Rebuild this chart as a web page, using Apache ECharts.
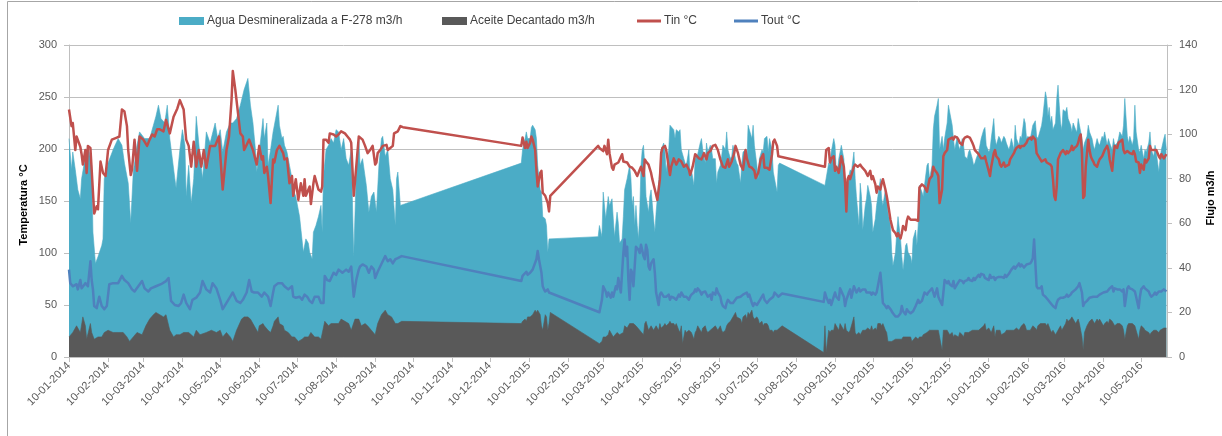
<!DOCTYPE html>
<html>
<head>
<meta charset="utf-8">
<script src="https://cdn.jsdelivr.net/npm/echarts@6/dist/echarts.min.js"></script>
<style>
  html, body { margin: 0; padding: 0; background: #ffffff; }
  #chart { width: 1222px; height: 436px; }
</style>
</head>
<body>
<div id="chart"></div>
<script>
// Daily readings, keyed by day number counted from 10-01-2014.
const firstDay = [2014, 0, 10];
const lastDay = 871.5;

// Month marks on the horizontal axis
const tickLabels = [
  '10-01-2014','10-02-2014','10-03-2014','10-04-2014','10-05-2014','10-06-2014',
  '10-07-2014','10-08-2014','10-09-2014','10-10-2014','10-11-2014','10-12-2014',
  '10-01-2015','10-02-2015','10-03-2015','10-04-2015','10-05-2015','10-06-2015',
  '10-07-2015','10-08-2015','10-09-2015','10-10-2015','10-11-2015','10-12-2015',
  '10-01-2016','10-02-2016','10-03-2016','10-04-2016','10-05-2016'
];

const seriesNames = [
  'Agua Desmineralizada a F-278 m3/h',
  'Aceite Decantado m3/h',
  'Tin °C',
  'Tout °C'
];

// Agua Desmineralizada a F-278 (m3/h) [day, value]
const agua = [
  [0,98],[2,84],[3,92],[5,84],[7,75],[9,71],[10,80],[13,90],[15,95],[18,86],[19,56],[21,42],[23,45],[26,50],[27,53],[28,80],[31,87],[35,93],[39,98],[42,95],[44,87],[47,78],[49,60],[51,83],[54,95],[56,101],[60,98],[64,98],[67,104],[69,108],[71,113],[73,107],[76,105],[78,113],[80,98],[84,80],[85,76],[88,93],[90,102],[92,95],[93,72],[95,86],[97,69],[99,80],[101,108],[104,90],[106,80],[109,101],[112,96],[116,105],[118,98],[120,102],[122,92],[125,101],[128,105],[130,105],[133,107],[136,113],[139,120],[142,125],[144,113],
  [146,105],[148,93],[149,83],[151,92],[154,107],[155,98],[157,105],[158,86],[160,93],[162,101],[164,107],[166,113],[167,104],[169,98],[170,99],[171,95],[173,92],[175,86],[177,80],[178,75],[180,72],[183,63],[186,47],[188,53],[190,51],[191,47],[193,44],[194,56],[196,59],[198,63],[200,68],[201,56],[202,81],[204,93],[206,95],[208,98],[210,96],[212,102],[214,101],[216,93],[218,98],[220,89],[222,86],[224,93],[226,45],[228,83],[230,99],[231,86],[233,89],[236,77],[238,65],[240,72],[242,74],[244,65],[246,86],[248,98],[249,99],[251,90],[253,93],[255,80],[257,75],[259,59],[260,80],[261,83],[263,68],
  [359,87],[360,93],[362,98],[363,101],[364,98],[366,98],[367,103],[368,104],[370,102],[371,98],[372,86],[374,75],[375,74],[376,63],[378,62],[379,59],[380,47],[381,53],[382,53],
  [420,54],[421,59],[423,54],[424,74],[426,62],[428,72],[429,68],[431,71],[432,62],[433,54],[435,65],[436,60],[437,51],[439,53],[440,63],[441,75],[443,80],[445,86],[446,80],[447,68],[448,72],[449,59],[450,68],
  [451,59],[452,53],[453,65],[454,86],[455,93],[456,95],[457,86],[458,72],[460,65],[461,72],[462,75],[464,62],[465,56],[466,65],[468,78],[469,84],[470,93],[472,96],[473,92],[474,83],[476,93],[477,104],[478,104],[480,102],[481,98],[482,102],[484,101],[485,102],[486,93],[488,89],[489,87],[490,86],[492,93],[493,80],[494,84],[496,77],[497,89],[498,90],[499,91],[501,96],[502,98],[503,93],[505,87],[506,96],[507,92],[509,95],[510,93],[511,89],[513,89],[514,78],[515,83],[517,86],[518,90],[519,95],[521,93],[522,101],[523,93],[525,89],[526,90],[527,95],[529,89],[530,87],[531,86],[533,78],[534,87],[535,92],[537,93],[538,87],[539,104],[540,104],[542,98],[543,104],[544,95],[546,86],[547,80],[548,89],[550,93],[551,92],[552,98],[554,99],[555,92],[556,98],[558,93],[559,83],[560,80],[562,74],[563,86],[564,87],
  [600,77],[603,87],[604,86],[605,92],[607,98],[608,95],[609,83],[610,84],[611,89],[612,92],[613,95],[615,89],[616,78],[617,72],[619,81],[620,84],[621,83],[623,92],[624,80],[625,72],[627,59],[628,78],[629,72],[630,57],[632,68],[633,71],[634,77],[636,72],[637,68],[638,56],[640,62],[641,68],[642,72],[644,80],[645,71],[646,68],[648,75],[649,72],[650,65],[652,59],[653,47],[654,41],[656,47],[657,56],[658,63],[660,53],[661,45],[662,39],[664,50],[665,51],[666,47],[668,45],[669,42],[670,53],[672,57],[673,50],[674,59],[675,77],[677,74],[678,72],[679,77],[681,86],[682,87],[683,80],[685,86],[686,102],[687,108],[689,113],[690,116],[691,93],[693,99],[694,93],[695,98],[697,105],[698,113],[699,113],[701,104],[702,98],[703,93],[705,99],[706,95],[707,93],[709,98],[710,95],[711,90],[713,89],[714,92],[715,93],[717,89],[718,86],[719,87],[720,89],[722,92],[723,95],[724,98],[726,102],[727,103],[728,95],[730,92],[731,93],[732,98],[734,107],[735,98],[736,95],[738,99],[739,98],[740,96],[742,99],[743,98],[744,96],
  [746,93],[747,95],[748,98],[750,93],[751,104],[752,98],[754,95],[755,99],[756,98],[758,107],[759,105],[760,98],[761,99],[763,98],[764,101],[765,104],[767,106],[768,99],[769,98],[771,102],[772,104],[773,108],[775,119],[776,116],[777,108],[778,112],[779,105],[780,108],[781,102],[783,105],[784,116],[785,122],[786,113],[787,105],[788,102],[789,111],[791,110],[792,112],[793,107],[795,104],[796,101],[797,105],[799,102],[800,101],[801,107],[802,104],[804,98],[805,93],[806,96],[808,99],[809,104],[810,101],[812,98],[813,95],[814,93],[816,98],[817,96],[818,95],[820,99],[821,98],[822,101],[824,95],[825,98],[826,96],[828,93],[829,98],[830,95],[832,96],[833,98],[834,101],[836,99],[837,104],[838,116],[840,99],[841,96],[842,99],[844,95],[845,98],[846,113],[847,101],[849,93],[850,92],[851,95],[853,89],[854,93],[855,92],[857,96],[858,101],[859,93],[861,90],[862,95],[863,92],[865,83],[866,89],[867,93],[869,98],[870,100],[871,93]
];

// Aceite Decantado (m3/h) [day, value]
const aceite = [
  [0,9],[3,11],[6,14],[9,11],[11,18],[13,14],[14,8],[17,15],[18,11],[20,8],[23,9],[26,9],[28,11],[31,12],[35,11],[39,11],[43,11],[46,9],[48,7],[51,9],[54,11],[58,10],[61,14],[64,17],[67,19],[69,20],[72,19],[75,18],[77,19],[80,12],[83,9],[85,10],[88,10],[91,11],[95,11],[99,9],[101,12],[104,10],[109,11],[113,12],[117,11],[120,12],[122,9],[125,11],[128,9],[130,7],[133,12],[137,17],[139,18],[142,18],[144,17],
  [146,15],[149,12],[150,11],[151,14],[154,15],[155,14],[158,12],[160,11],[162,14],[163,16],[166,18],[167,15],[170,14],[171,12],[174,11],[177,9],[179,9],[182,7],[185,8],[187,9],[190,9],[192,11],[195,9],[198,9],[200,8],[203,16],[206,14],[208,15],[211,15],[214,15],[216,17],[219,16],[222,15],[224,12],[227,17],[230,17],[232,14],[235,15],[237,14],[240,12],[243,10],[245,15],[248,19],[251,21],[253,19],[256,18],[259,15],[261,15],[264,16],
  [359,15],[360,16],[362,17],[363,16],[364,18],[366,18],[368,19],[370,21],[371,20],[372,21],[374,19],[375,14],[376,12],[378,19],[379,18],[380,12],[381,15],[382,20],
  [421,6],[423,7],[424,9],[426,9],[428,10],[429,12],[431,10],[432,9],[435,11],[437,10],[440,11],[441,14],[443,13],[445,15],[448,15],[450,14],[453,12],
  [454,12],[456,10],[457,15],[458,16],[460,12],[461,12],[462,14],[464,12],[465,13],[466,14],[468,12],[469,15],[470,13],[472,14],[473,15],[474,14],[476,15],[477,16],[478,15],[480,15],[481,14],[482,15],[484,12],[485,11],[486,14],[487,6],[489,12],[490,11],[492,12],[493,12],[494,11],[496,8],[497,11],[498,12],[499,14],[501,12],[502,11],[503,13],[505,14],[506,12],[507,11],[509,12],[511,13],[513,14],[514,14],[515,12],[517,14],[518,12],[519,11],[521,12],[522,14],[523,15],[525,16],[526,17],[527,18],[529,20],[530,18],[531,18],[533,17],[534,15],[535,18],[537,19],[538,17],[539,20],[540,19],[542,21],[543,18],[544,17],[546,18],[547,17],[548,15],[550,16],[551,14],[552,15],[554,15],[555,14],[556,12],[558,12],[559,11],[560,12],[562,12],[563,12],[566,14],
  [599,2],[600,14],[601,2],[603,12],[604,11],[605,12],[607,12],[608,15],[609,14],[611,12],[612,15],[613,14],[615,12],[616,15],[617,12],[619,11],[620,12],[621,14],[623,18],[624,11],[625,10],[627,11],[628,10],[629,11],[630,12],[632,12],[633,12],[634,13],[636,12],[637,14],[638,12],[640,13],[641,12],[642,15],[644,15],[645,14],[646,15],[648,12],[649,11],[650,7],[653,7],[656,8],[658,8],[661,8],[662,9],[665,9],[668,9],[669,7],[672,9],[674,8],[675,9],[677,9],[678,10],[681,11],[683,12],[686,12],[687,12],[690,12],[691,12],[693,3],[694,12],[695,12],[697,12],[698,11],[699,10],[701,11],[702,9],[703,10],[706,9],[707,11],[709,10],[710,9],[711,11],[714,11],[717,12],[719,12],[722,12],[723,12],[724,13],[726,14],[727,15],[728,12],[730,13],[731,12],[732,11],[734,14],[735,9],[736,12],[739,12],[740,10],[743,11],[744,12],[747,12],[750,12],
  [752,13],[754,12],[755,13],[756,14],[758,15],[759,14],[760,12],[761,12],[763,12],[764,13],[765,14],[767,13],[768,12],[769,14],[771,15],[772,15],[773,15],[775,15],[776,14],[777,15],[779,12],[780,11],[781,12],[783,10],[784,11],[785,12],[787,14],[788,12],[789,13],[791,15],[792,17],[793,16],[795,17],[796,18],[797,17],[799,15],[800,16],[801,17],[802,15],[804,9],[805,3],[806,11],[808,14],[809,15],[810,16],[812,17],[813,16],[814,15],[816,17],[817,16],[818,17],[820,15],[821,14],[822,15],[824,16],[825,15],[826,17],[828,16],[829,15],[830,14],[832,15],[833,15],[834,15],[836,14],[837,12],[838,8],[840,14],[841,15],[842,15],[844,15],[845,15],[846,14],[847,12],[849,8],[850,12],[851,14],[853,13],[854,12],[855,12],[857,11],[858,10],[859,11],[861,12],[862,12],[863,12],[865,11],[866,12],[867,12],[869,13],[870,13],[871,13]
];

// Tin (°C) [day, value]
const tin = [
  [0,238],[2,222],[3,225],[5,199],[6,212],[9,202],[10,195],[11,185],[13,199],[14,177],[15,203],[17,201],[20,138],[22,145],[23,142],[25,188],[27,177],[29,174],[31,199],[34,209],[38,211],[40,212],[42,238],[44,236],[46,222],[47,199],[49,175],[50,180],[52,209],[54,179],[56,212],[59,209],[62,203],[64,209],[66,214],[68,212],[70,219],[72,219],[75,217],[77,228],[80,215],[83,231],[86,239],[88,247],[91,238],[93,209],[95,203],[97,183],[99,207],[101,183],[103,199],[105,183],[107,199],[109,182],[112,203],[116,203],[119,212],[122,161],[125,199],[127,212],[129,247],[130,275],[132,257],[136,215],[138,212],[139,199],[143,209],[146,199],[149,185],[151,203],
  [153,190],[154,193],[155,177],[157,183],[158,174],[160,148],[162,190],[163,187],[165,199],[167,203],[170,196],[171,190],[173,191],[175,167],[177,174],[178,155],[180,171],[182,151],[183,150],[184,167],[186,155],[187,171],[188,155],[191,164],[192,147],[194,167],[195,174],[198,161],[200,159],[201,164],[202,209],[204,209],[206,206],[207,215],[210,214],[212,212],[214,214],[216,217],[219,215],[221,212],[223,209],[224,206],[226,155],[228,183],[230,212],[231,211],[233,209],[235,203],[237,196],[239,199],[241,203],[243,185],[244,187],[245,196],[247,199],[249,203],[252,204],[253,199],[255,201],[257,203],[258,215],[261,217],[263,222],[265,221],
  [359,203],[360,211],[362,201],[363,207],[364,201],[366,206],[367,212],[368,209],[370,199],[371,180],[372,164],[374,177],[375,179],[376,158],[378,155],[380,148],[381,140],[382,155],
  [420,203],[421,201],[424,198],[425,203],[427,195],[428,209],[429,196],[431,182],[432,180],[433,185],[436,187],[439,195],[440,188],[443,187],[445,183],
  [447,182],[449,179],[451,174],[453,180],[454,183],[456,174],[457,190],[458,188],[460,185],[462,177],[463,171],[465,161],[467,151],[469,171],[470,196],[471,201],[473,203],[474,199],[476,183],[477,175],[478,183],[480,191],[482,185],[484,190],[485,191],[486,188],[488,183],[490,185],[492,180],[493,175],[495,183],[497,195],[498,196],[500,191],[502,190],[504,196],[506,190],[507,196],[509,198],[511,203],[513,204],[515,199],[517,190],[519,183],[521,182],[523,190],[524,183],[526,188],[528,196],[529,203],[531,196],[533,185],[535,180],[537,199],[538,191],[540,183],[542,182],[544,179],[545,172],[547,177],[549,190],[551,195],[552,182],[554,182],[556,180],[558,195],[559,207],[560,209],[562,203],[563,193],[564,193],
  [600,183],[601,199],[603,201],[604,187],[605,191],[607,193],[608,179],[609,183],[611,177],[612,185],[613,193],[615,183],[616,167],[617,140],[618,171],[619,174],[620,171],[621,175],[623,183],[624,185],[625,185],[626,183],[628,185],[629,183],[630,182],[632,179],[633,180],[634,174],[636,179],[637,171],[638,174],[640,166],[641,158],[642,164],[644,161],[645,167],[646,171],[648,161],[649,155],[650,148],[652,132],[653,127],[654,122],[656,119],[657,116],[658,119],[660,114],[661,119],[662,126],[664,122],[665,131],[666,135],[668,132],[669,131],[670,132],[672,132],[673,131],[674,131],[675,163],[677,166],[678,167],[679,164],[681,159],[682,158],[683,171],[685,174],[686,183],[687,180],[689,177],[690,174],[691,148],[693,161],[694,193],[695,196],[697,199],[698,209],[699,209],[701,211],[702,209],[703,212],[705,211],[706,209],[707,206],[709,204],[710,209],[711,211],[713,212],[714,213],[715,211],[717,206],[718,203],[719,199],[720,198],[722,195],[723,193],[724,191],[726,191],[727,193],[728,188],[730,179],[731,174],[732,183],[734,196],[735,199],[736,193],[738,190],[739,185],[740,183],[742,187],[743,183],[744,182],[746,185],[747,190],
  [748,191],[750,196],[751,199],[752,201],[754,203],[755,201],[756,203],[758,203],[759,203],[760,206],[761,209],[763,211],[764,209],[765,212],[767,209],[768,196],[769,195],[771,190],[772,188],[773,187],[775,190],[776,187],[777,188],[779,185],[780,183],[781,171],[782,155],[783,151],[784,164],[785,190],[787,196],[788,195],[789,199],[791,195],[792,198],[793,196],[795,199],[796,203],[797,199],[798,201],[800,203],[801,206],[802,211],[803,214],[804,196],[805,153],[806,155],[807,183],[808,196],[809,209],[810,199],[811,193],[812,190],[813,188],[814,185],[816,183],[817,187],[818,190],[820,193],[821,196],[822,199],[824,203],[825,199],[826,190],[828,179],[829,193],[830,203],[832,201],[833,206],[834,207],[836,209],[837,199],[838,196],[840,198],[841,199],[842,196],[844,195],[845,198],[846,195],[847,188],[849,187],[850,177],[851,185],[853,180],[854,190],[855,187],[857,191],[858,203],[859,199],[861,199],[862,198],[863,199],[865,193],[866,191],[867,195],[869,191],[870,193],[871,195]
];

// Tout (°C) [day, value]
const tout = [
  [0,84],[1,71],[3,68],[6,70],[7,65],[9,74],[10,66],[13,71],[15,68],[17,92],[18,74],[19,65],[20,49],[22,47],[24,58],[26,49],[28,46],[30,49],[32,70],[35,71],[39,71],[42,78],[44,74],[47,71],[50,65],[52,63],[55,68],[58,73],[60,66],[63,63],[65,66],[69,68],[73,70],[77,73],[79,76],[81,54],[84,50],[87,49],[89,52],[91,60],[93,52],[96,46],[98,55],[101,57],[104,62],[106,73],[109,65],[112,62],[114,71],[117,66],[120,55],[122,46],[125,52],[128,58],[130,62],[133,54],[136,52],[138,55],[141,62],[143,74],[145,63],
  [147,62],[150,62],[153,58],[155,62],[158,58],[160,49],[162,62],[163,68],[166,71],[169,71],[171,68],[174,65],[177,68],[178,58],[180,57],[183,58],[185,55],[187,60],[189,58],[191,54],[193,52],[195,58],[198,58],[200,52],[202,52],[203,78],[205,74],[207,73],[210,81],[212,79],[214,84],[217,81],[220,84],[222,82],[224,87],[226,58],[228,74],[230,84],[231,87],[233,89],[236,87],[238,81],[240,87],[242,84],[243,76],[245,82],[247,87],[249,92],[251,97],[253,92],[255,94],[257,90],[259,94],[261,95],[264,97],
  [359,73],[360,78],[363,82],[364,79],[366,81],[368,84],[371,94],[372,102],[373,94],[375,81],[376,68],[377,65],[378,63],[380,65],[381,62],[382,62],
  [421,43],[423,55],[424,68],[426,63],[427,58],[428,62],[430,57],[431,62],[432,58],[434,68],[435,65],[436,76],[438,62],[439,81],[440,100],[441,113],[442,97],[443,106],[444,74],[445,55],[446,84],[447,81],[448,68],[449,87],[450,106],[452,103],[453,100],
  [454,108],[456,97],[457,94],[458,108],[459,103],[460,87],[461,84],[462,90],[464,94],[465,81],[466,62],[468,50],[469,60],[470,62],[472,58],[473,57],[474,58],[476,60],[477,55],[478,58],[480,57],[481,58],[482,55],[484,60],[485,58],[486,62],[488,58],[489,57],[490,58],[492,55],[493,58],[494,60],[496,62],[497,65],[498,63],[499,66],[501,63],[502,60],[503,62],[505,63],[506,62],[507,58],[509,60],[510,55],[511,62],[513,60],[514,66],[515,62],[517,58],[518,52],[519,49],[521,47],[522,52],[523,55],[525,52],[527,52],[530,57],[533,58],[535,60],[538,62],[539,58],[540,60],[542,52],[543,49],[544,52],[546,50],[548,54],[550,58],[551,60],[552,55],[554,52],[556,55],[559,58],[560,62],[563,58],[566,61],
  [599,53],[600,62],[601,58],[603,52],[604,55],[605,50],[607,58],[608,62],[609,58],[611,55],[612,66],[613,66],[615,58],[616,49],[617,55],[619,62],[620,65],[621,57],[623,68],[624,68],[625,62],[627,66],[628,63],[629,62],[630,65],[632,65],[633,62],[634,63],[636,62],[637,60],[638,62],[640,60],[641,62],[642,68],[644,81],[645,68],[646,52],[648,49],[649,47],[650,49],[652,46],[653,44],[654,42],[656,39],[657,38],[658,39],[660,42],[661,49],[662,44],[664,41],[665,46],[666,44],[668,42],[669,41],[670,44],[672,49],[673,52],[674,55],[675,52],[677,54],[678,58],[679,62],[681,60],[682,62],[683,63],[685,66],[686,62],[687,58],[689,66],[690,58],[691,55],[693,50],[694,62],[695,74],[697,71],[698,73],[699,70],[701,68],[702,73],[703,66],[705,70],[706,71],[707,74],[709,73],[710,71],[711,73],[713,74],[714,76],[715,74],[717,73],[718,76],[719,74],[720,76],[722,79],[723,77],[724,80],[726,79],[727,76],[728,77],[730,74],[731,79],[732,76],[734,77],[735,74],[736,76],[738,77],[739,76],[740,77],[742,76],[743,79],[744,77],[746,80],[747,82],[748,84],[750,87],[751,85],
  [752,86],[754,90],[755,87],[756,89],[758,86],[759,87],[760,89],[763,90],[764,92],[765,95],[766,113],[767,114],[768,68],[769,66],[771,66],[772,68],[773,60],[775,58],[776,57],[777,55],[779,52],[780,52],[781,49],[783,47],[784,52],[785,55],[787,57],[788,58],[789,57],[791,58],[792,60],[793,58],[795,60],[796,62],[797,63],[799,65],[800,66],[801,68],[802,71],[804,62],[805,49],[806,52],[808,54],[809,55],[810,57],[813,58],[816,58],[818,60],[821,62],[824,63],[825,62],[826,66],[828,68],[829,63],[830,66],[832,65],[833,66],[834,65],[836,63],[837,65],[838,49],[840,66],[841,68],[842,66],[844,65],[845,66],[846,63],[847,58],[849,47],[850,58],[851,65],[853,68],[854,66],[855,65],[857,63],[858,60],[859,58],[861,60],[862,62],[863,60],[865,63],[866,62],[867,63],[869,65],[870,65],[871,63]
];

const DAY_MS = 86400000;
function dayToTime(d) {
  return new Date(firstDay[0], firstDay[1], firstDay[2] + d).getTime();
}
function labelToTime(s) {
  const p = s.split('-').map(Number);
  return new Date(p[2], p[1] - 1, p[0]).getTime();
}
function toSeries(points) {
  return points.map(function (p) { return [dayToTime(p[0]), p[1]]; });
}

const tickTimes = tickLabels.map(labelToTime);
const FONT = '"Liberation Sans", Arial, sans-serif';

const chart = echarts.init(document.getElementById('chart'), null, { renderer: 'canvas' });

function legendBlock(name, left, isLine, color) {
  return {
    left: left,
    top: 15,
    orient: 'horizontal',
    padding: 0,
    itemWidth: isLine ? 24 : 25,
    itemHeight: isLine ? 3 : 8,
    icon: 'rect',
    data: [{ name: name, icon: 'rect', itemStyle: { color: color } }],
    textStyle: { fontFamily: FONT, fontSize: 12, color: '#404040', padding: [0, 0, 0, -2] },
    selectedMode: false
  };
}

const option = {
  animation: false,
  backgroundColor: '#ffffff',
  textStyle: { fontFamily: FONT },
  legend: [
    legendBlock(seriesNames[0], 179, false, '#4bacc6'),
    legendBlock(seriesNames[1], 442, false, '#595959'),
    legendBlock(seriesNames[2], 637, true, '#c0504d'),
    legendBlock(seriesNames[3], 734, true, '#4f81bd')
  ],
  grid: { left: 69, right: 55, top: 45, bottom: 79, containLabel: false },
  xAxis: {
    type: 'time',
    min: dayToTime(0),
    max: dayToTime(0) + lastDay * DAY_MS,
    axisLine: { show: true, lineStyle: { color: '#bfbfbf', width: 1 } },
    axisTick: { show: true, customValues: tickTimes, length: 5, lineStyle: { color: '#bfbfbf' } },
    axisLabel: {
      customValues: tickTimes,
      rotate: 45,
      margin: 7,
      fontSize: 11,
      fontFamily: FONT,
      color: '#595959',
      formatter: '{dd}-{MM}-{yyyy}',
      hideOverlap: false
    },
    splitLine: { show: false },
    minorTick: { show: false }
  },
  yAxis: [
    {
      type: 'value',
      position: 'left',
      min: 0, max: 300, interval: 50,
      axisLine: { show: true, lineStyle: { color: '#bfbfbf' } },
      axisTick: { show: true, length: 5, lineStyle: { color: '#bfbfbf' } },
      axisLabel: { margin: 12, fontSize: 11, fontFamily: FONT, color: '#595959' },
      splitLine: { show: true, lineStyle: { color: '#bfbfbf', width: 1 } }
    },
    {
      type: 'value',
      position: 'right',
      min: 0, max: 140, interval: 20,
      axisLine: { show: true, lineStyle: { color: '#bfbfbf' } },
      axisTick: { show: true, length: 5, lineStyle: { color: '#bfbfbf' } },
      axisLabel: { margin: 12, fontSize: 11, fontFamily: FONT, color: '#595959' },
      splitLine: { show: false }
    }
  ],
  graphic: [
    { type: 'line', silent: true, shape: { x1: 7.5, y1: 1.5, x2: 1222, y2: 1.5 }, style: { stroke: '#a6a6a6', lineWidth: 1 } },
    { type: 'line', silent: true, shape: { x1: 7.5, y1: 1.5, x2: 7.5, y2: 436 }, style: { stroke: '#a6a6a6', lineWidth: 1 } },
    {
      type: 'text', silent: true, x: 24, y: 205, rotation: Math.PI / 2,
      style: { text: 'Temperatura °C', font: 'bold 11px ' + FONT, fill: '#000000', textAlign: 'center', textVerticalAlign: 'middle' }
    },
    {
      type: 'text', silent: true, x: 1211, y: 198, rotation: Math.PI / 2,
      style: { text: 'Flujo m3/h', font: 'bold 11px ' + FONT, fill: '#000000', textAlign: 'center', textVerticalAlign: 'middle' }
    }
  ],
  series: [
    {
      name: seriesNames[0], type: 'line', yAxisIndex: 1, z: 1,
      data: toSeries(agua), showSymbol: false, symbol: 'none',
      color: '#4bacc6',
      lineStyle: { width: 0.6, color: '#4bacc6' },
      areaStyle: { color: '#4bacc6', opacity: 1 }
    },
    {
      name: seriesNames[1], type: 'line', yAxisIndex: 1, z: 2,
      data: toSeries(aceite), showSymbol: false, symbol: 'none',
      color: '#595959',
      lineStyle: { width: 0.6, color: '#595959' },
      areaStyle: { color: '#595959', opacity: 1 }
    },
    {
      name: seriesNames[2], type: 'line', yAxisIndex: 0, z: 3,
      data: toSeries(tin), showSymbol: false, symbol: 'none',
      color: '#c0504d',
      lineStyle: { width: 2.5, color: '#c0504d', join: 'round' }
    },
    {
      name: seriesNames[3], type: 'line', yAxisIndex: 0, z: 3,
      data: toSeries(tout), showSymbol: false, symbol: 'none',
      color: '#4f81bd',
      lineStyle: { width: 2.5, color: '#4f81bd', join: 'round' }
    }
  ]
};

chart.setOption(option);
</script>
</body>
</html>
